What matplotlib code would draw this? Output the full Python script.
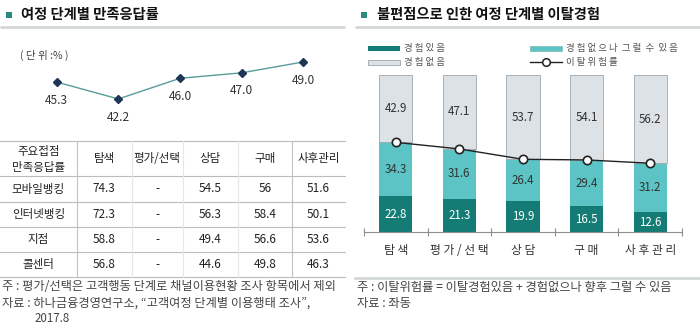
import matplotlib
matplotlib.use("Agg")
import matplotlib.pyplot as plt
from matplotlib.patches import Rectangle
import numpy as np

plt.rcParams['font.family'] = ['Noto Sans CJK KR', 'DejaVu Sans']

# stages of the customer journey
stages = ['탐색', '평가/선택', '상담', '구매', '사후관리']
stage_labels = ['탐 색', '평 가 / 선 택', '상 담', '구 매', '사 후 관 리']

# satisfaction rate by stage (%)
satisfied = [45.3, 42.2, 46.0, 47.0, 49.0]

# satisfaction by channel (table)
channels = ['모바일뱅킹', '인터넷뱅킹', '지점', '콜센터']
channel_cells = [
    ['74.3', '-', '54.5', '56', '51.6'],
    ['72.3', '-', '56.3', '58.4', '50.1'],
    ['58.8', '-', '49.4', '56.6', '53.6'],
    ['56.8', '-', '44.6', '49.8', '46.3'],
]

# churn experience by stage (%)
exp_yes = [22.8, 21.3, 19.9, 16.5, 12.6]
exp_maybe = [34.3, 31.6, 26.4, 29.4, 31.2]
exp_no = [42.9, 47.1, 53.7, 54.1, 56.2]
risk = [a + b for a, b in zip(exp_yes, exp_maybe)]

DARK = '#157b75'
TEAL = '#5cc4c4'
GREY = '#dde2e7'
GREY_EDGE = '#9ea6ad'
TXT = '#333333'
NOTE = '#444444'

W, H = 700, 327
fig = plt.figure(figsize=(W / 100, H / 100), dpi=100)


def px_axes(x0, y0, x1, y1):
    return fig.add_axes([x0 / W, 1 - y1 / H, (x1 - x0) / W, (y1 - y0) / H])


# overlay in pixel coordinates for titles, table and notes
ov = fig.add_axes([0, 0, 1, 1])
ov.set_xlim(0, W)
ov.set_ylim(H, 0)
ov.axis('off')

# ---- section titles
for x_sq, x_txt, title, (l0, l1) in [
        (6, 21, '여정 단계별 만족응답률', (0, 345)),
        (361, 377, '불편점으로 인한 여정 단계별 이탈경험', (355, 700))]:
    ov.add_patch(Rectangle((x_sq, 12), 6, 6, color='#2b8a80', lw=0))
    ov.text(x_txt, 15.5, title, fontsize=10.3, fontweight='bold',
            color='#111111', va='center', ha='left')
    ov.plot([l0, l1], [27, 27], color='#cfd3d3', lw=1.8,
            solid_capstyle='butt')

# ---- left: satisfaction line chart
ax1 = px_axes(26, 40.2, 334, 121.8)
x = np.arange(len(stages))
ax1.plot(x, satisfied, color='#5a9c9a', lw=1.0, marker='D',
         markersize=4, markerfacecolor='#1d3557', markeredgecolor='#1d3557')
for xi, v in zip(x, satisfied):
    ax1.annotate(f'{v:.1f}', (xi, v), xytext=(0, -13), textcoords='offset points',
                 ha='center', va='center', fontsize=8.6, color=TXT)
ax1.set_xlim(-0.5, 4.5)
ax1.set_ylim(38, 53)
ax1.axis('off')
ov.text(20, 55, '( 단 위 :% )', fontsize=7.6, color=NOTE, va='center')

# ---- left: channel table
col_edges = [0, 77, 131.5, 183, 237.5, 292, 345]
row_edges = [141, 176, 202, 227, 252, 277]
for y in row_edges:
    ov.plot([0, 345], [y, y], color='#b9bdbd', lw=0.8)
for i, xe in enumerate(col_edges[1:-1]):
    ov.plot([xe, xe], [row_edges[0], row_edges[-1]],
            color='#bfc3c3' if i in (0, 4) else '#e6e8e8', lw=0.8)

col_centers = [(a + b) / 2 for a, b in zip(col_edges[:-1], col_edges[1:])]
ov.text(col_centers[0], 151, '주요접점', fontsize=8.3, color='#222222',
        ha='center', va='center')
ov.text(col_centers[0], 167.5, '만족응답률', fontsize=8.3, color='#222222',
        ha='center', va='center')
for cx, st in zip(col_centers[1:], stages):
    ov.text(cx, 158.5, st, fontsize=8.3, color='#222222', ha='center', va='center')
for r, (ch, cells) in enumerate(zip(channels, channel_cells)):
    cy = (row_edges[r + 1] + row_edges[r + 2]) / 2
    ov.text(col_centers[0], cy, ch, fontsize=8.3, color='#222222',
            ha='center', va='center')
    for cx, c in zip(col_centers[1:], cells):
        ov.text(cx, cy, c, fontsize=8.5, color='#222222', ha='center', va='center')

ov.text(2, 287, '주 : 평가/선택은 고객행동 단계로 채널이용현황 조사 항목에서 제외',
        fontsize=8.8, color=NOTE, va='center')
ov.text(2, 303, '자료 : 하나금융경영연구소, “고객여정 단계별 이용행태 조사”,',
        fontsize=8.8, color=NOTE, va='center')
ov.text(35, 318, '2017.8', fontsize=8.3, color=NOTE, va='center')

# ---- right: stacked bars with churn-risk line
ax2 = px_axes(364, 75, 682, 232)
bw = 0.52
ax2.bar(x, exp_yes, bw, color=DARK, lw=0)
ax2.bar(x, exp_maybe, bw, bottom=exp_yes, color=TEAL, lw=0)
ax2.bar(x, exp_no, bw, bottom=risk, color=GREY, edgecolor=GREY_EDGE, lw=0.6)
ax2.plot(x, risk, color='#222222', lw=1.0, marker='o', markersize=6,
         markerfacecolor='white', markeredgecolor='#222222', markeredgewidth=1.2)
for xi, a, b, c in zip(x, exp_yes, exp_maybe, exp_no):
    ax2.text(xi, a / 2, f'{a:.1f}', ha='center', va='center', fontsize=8.3, color='white')
    ax2.text(xi, a + b / 2, f'{b:.1f}', ha='center', va='center', fontsize=8.3, color=TXT)
    ax2.text(xi, a + b + c / 2, f'{c:.1f}', ha='center', va='center', fontsize=8.3, color=TXT)
ax2.set_xlim(-0.5, 4.5)
ax2.set_ylim(0, 100)
for s in ['top', 'left', 'right']:
    ax2.spines[s].set_visible(False)
ax2.spines['bottom'].set_color('#8a8f8f')
ax2.spines['bottom'].set_linewidth(0.8)
ax2.set_yticks([])
ax2.set_xticks(np.arange(-0.5, 5, 1))
ax2.set_xticklabels([])
ax2.tick_params(axis='x', direction='inout', length=6, width=0.8, color='#8a8f8f')
for xi, lab in zip(x, stage_labels):
    ax2.annotate(lab, (xi, 0), xytext=(0, -13), textcoords='offset points',
                 ha='center', va='center', fontsize=8.5, color='#333333')

# legend
ov.add_patch(Rectangle((368, 46), 32, 5, color=DARK, lw=0))
ov.text(404, 48.5, '경 험 있 음', fontsize=6.8, color='#555555', va='center')
ov.add_patch(Rectangle((368, 59.5), 32, 5, facecolor=GREY, edgecolor=GREY_EDGE, lw=0.6))
ov.text(404, 62, '경 험 없 음', fontsize=6.8, color='#555555', va='center')
ov.add_patch(Rectangle((530, 46), 32, 5, facecolor=TEAL, edgecolor='#7fb5b5', lw=0.5))
ov.text(566, 48.5, '경 험 없 으 나  그 럴  수  있 음', fontsize=6.8,
        color='#555555', va='center')
ov.plot([530, 562], [62, 62], color='#222222', lw=1.0)
ov.plot([546], [62], marker='o', markersize=5.5, markerfacecolor='white',
        markeredgecolor='#222222', markeredgewidth=1.1)
ov.text(566, 62, '이 탈 위 험 률', fontsize=6.8, color='#555555', va='center')

ov.plot([355, 700], [278, 278], color='#cfd3d3', lw=1.8)
ov.text(357, 287, '주 : 이탈위험률 = 이탈경험있음 + 경험없으나 향후 그럴 수 있음',
        fontsize=8.8, color=NOTE, va='center')
ov.text(357, 303, '자료 : 좌동', fontsize=8.8, color=NOTE, va='center')

fig.savefig('out.png', dpi=100)
